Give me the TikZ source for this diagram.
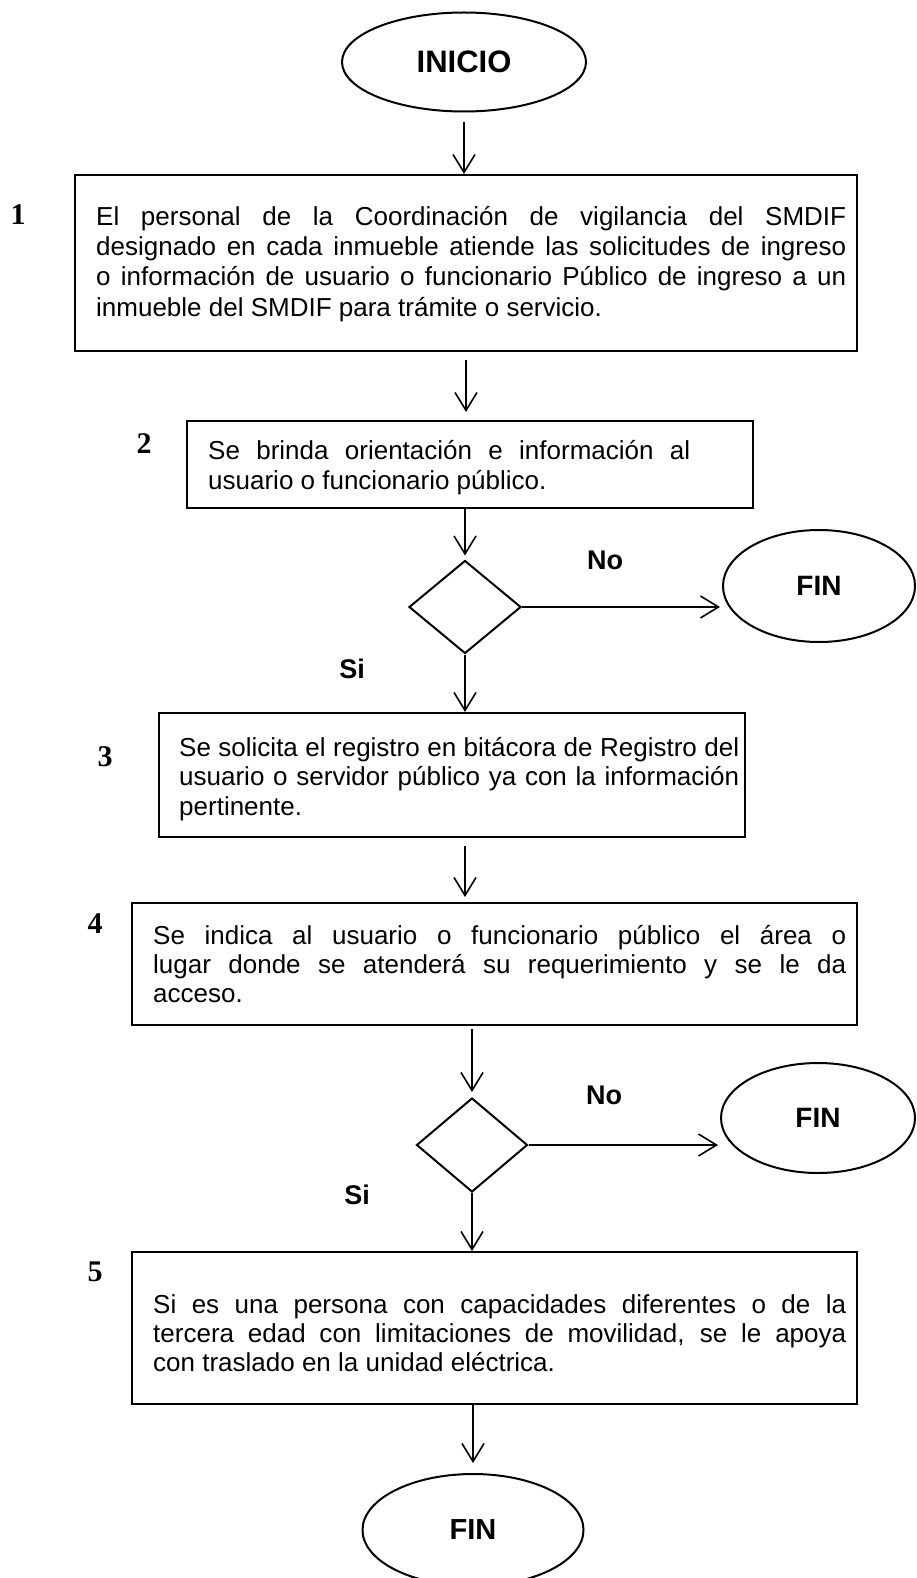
\documentclass[tikz,border=0pt]{standalone}
\usepackage{fontspec}
\setmainfont{Liberation Sans}
\newfontfamily\numfont{Liberation Serif}
\usetikzlibrary{arrows.meta,shapes.geometric}
\tikzset{pin/.style={-{Straight Barb[length=18pt,width=22pt]}, line width=1.6pt}}
\newcommand{\fullline}[1]{\makebox[\hsize][s]{#1}}

\begin{document}
\begin{tikzpicture}[x=1pt, y=-1pt,
    stepbox/.style={draw, rectangle, line width=2pt, inner sep=0pt},
    term/.style={draw, ellipse, line width=2pt, inner sep=0pt,
      font=\bfseries\fontsize{28}{30}\selectfont},
    ask/.style={draw, diamond, line width=2pt, inner sep=0pt},
    txt/.style={inner sep=0pt, anchor=west, align=justify,
      font=\fontsize{26}{29.3}\selectfont},
    num/.style={font=\numfont\bfseries\fontsize{30}{30}\selectfont},
    ans/.style={font=\bfseries\fontsize{27}{27}\selectfont}]
  \useasboundingbox (0,0) rectangle (916,1578);
  % terminals and decisions
  \node[term, minimum width=244pt, minimum height=99pt,
    font=\bfseries\fontsize{31}{31}\selectfont] (ini) at (464,62) {INICIO};
  \node[ask, minimum width=112pt, minimum height=93pt] (d1) at (465,607) {};
  \node[term, minimum width=192pt, minimum height=112pt] (fin1) at (819,586) {FIN};
  \node[ask, minimum width=111pt, minimum height=94pt] (d2) at (472,1145) {};
  \node[term, minimum width=194pt, minimum height=110pt] (fin2) at (818,1118) {FIN};
  \node[term, minimum width=221pt, minimum height=112pt,
    font=\bfseries\fontsize{29}{29}\selectfont] (fin3) at (473,1530) {FIN};
  % process boxes
  \node[stepbox, minimum width=782pt, minimum height=176pt] (b1) at (466,263) {};
  \node[stepbox, minimum width=566pt, minimum height=87pt] (b2) at (470,464.5) {};
  \node[stepbox, minimum width=586pt, minimum height=124pt] (b3) at (452,775) {};
  \node[stepbox, minimum width=725pt, minimum height=122pt] (b4) at (494.5,964) {};
  \node[stepbox, minimum width=725pt, minimum height=152pt] (b5) at (494.5,1328) {};
  % box texts
  \node[txt, text width=750pt, font=\fontsize{26}{30.2}\selectfont] (t1) at (96,264) {%
    \fullline{El personal de la Coordinación de vigilancia del SMDIF}\\
    \fullline{designado en cada inmueble atiende las solicitudes de ingreso}\\
    \fullline{o información de usuario o funcionario Público de ingreso a un}\\
    inmueble del SMDIF para trámite o servicio.};
  \node[txt, text width=482pt] (t2) at (208,467.5) {%
    \fullline{Se brinda orientación e información al}\\
    usuario o funcionario público.};
  \node[txt, text width=560pt] (t3) at (179,779) {%
    \fullline{Se solicita el registro en bitácora de Registro del}\\
    \fullline{usuario o servidor público ya con la información}\\
    pertinente.};
  \node[txt, text width=693pt] (t4) at (153,964) {%
    \fullline{Se indica al usuario o funcionario público el área o}\\
    \fullline{lugar donde se atenderá su requerimiento y se le da}\\
    acceso.};
  \node[txt, text width=693pt] (t5) at (153,1333) {%
    \fullline{Si es una persona con capacidades diferentes o de la}\\
    \fullline{tercera edad con limitaciones de movilidad, se le apoya}\\
    con traslado en la unidad eléctrica.};
  % step numbers
  \node[num] (n1) at (18,215) {1};
  \node[num] (n2) at (144,444) {2};
  \node[num] (n3) at (105,757) {3};
  \node[num] (n4) at (95,924) {4};
  \node[num] (n5) at (95,1272) {5};
  % answers
  \node[ans] (no1) at (605,560) {No};
  \node[ans] (si1) at (352,669) {Si};
  \node[ans] (no2) at (604,1095) {No};
  \node[ans] (si2) at (357,1195) {Si};
  % flow
  \draw[pin, shorten <=10pt] (ini.south) -- (ini.south |- b1.north);
  \draw[pin, shorten <=8pt, shorten >=8pt] (b1.south) -- (b1.south |- b2.north);
  \draw[pin, shorten >=4pt] (d1.north |- b2.south) -- (d1.north);
  \draw[pin, shorten >=2pt] (d1.east) -- (d1.east -| fin1.west);
  \draw[pin] (d1.south) -- (d1.south |- b3.north);
  \draw[pin, shorten <=8pt, shorten >=5pt] (b3.south -| d1) -- (b4.north -| d1);
  \draw[pin, shorten <=3pt, shorten >=5pt] (b4.south -| d2) -- (d2.north);
  \draw[pin, shorten >=2pt] (d2.east) -- (d2.east -| fin2.west);
  \draw[pin] (d2.south) -- (d2.south |- b5.north);
  \draw[pin, shorten >=10pt] (b5.south -| fin3) -- (fin3.north);
\end{tikzpicture}
\end{document}
